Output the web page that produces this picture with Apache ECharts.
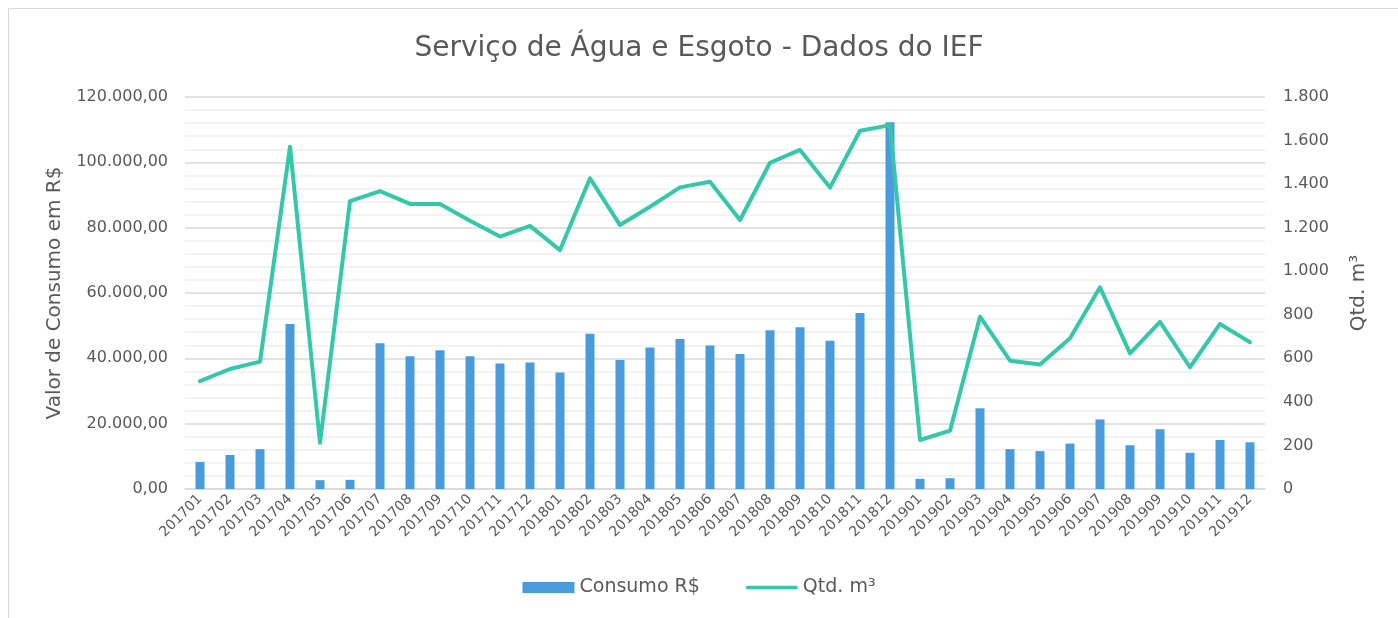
<!DOCTYPE html>
<html>
<head>
<meta charset="utf-8">
<script src="https://cdn.jsdelivr.net/npm/echarts@6/dist/echarts.min.js"></script>
<style>
  html, body { margin: 0; padding: 0; background: #fff; }
  #chart { width: 1398px; height: 618px; }
</style>
</head>
<body>
<div id="chart"></div>
<script>
// meses (AAAAMM)
var meses = ['201701','201702','201703','201704','201705','201706','201707','201708','201709','201710','201711','201712',
             '201801','201802','201803','201804','201805','201806','201807','201808','201809','201810','201811','201812',
             '201901','201902','201903','201904','201905','201906','201907','201908','201909','201910','201911','201912'];

// Consumo R$ (eixo esquerdo)
var consumo = [8300, 10400, 12200, 50500, 2700, 2800, 44600, 40600, 42500, 40600, 38400, 38700,
               35700, 47500, 39500, 43300, 45900, 43900, 41300, 48600, 49500, 45400, 53900, 112300,
               3100, 3300, 24700, 12200, 11600, 13900, 21300, 13400, 18300, 11100, 15000, 14300];

// Qtd. m³ (eixo direito)
var qtd = [495, 551, 585, 1572, 212, 1322, 1368, 1309, 1309, 1232, 1159, 1208,
           1097, 1427, 1212, 1296, 1385, 1411, 1235, 1498, 1557, 1384, 1645, 1671,
           225, 268, 791, 589, 572, 692, 926, 623, 767, 559, 758, 674];

var cinza = '#595959';
var fonte = 'DejaVu Sans';

function brl(v) {
  var p = v.toFixed(2).split('.');
  return p[0].replace(/\B(?=(\d{3})+(?!\d))/g, '.') + ',' + p[1];
}
function milhar(v) {
  return String(v).replace(/\B(?=(\d{3})+(?!\d))/g, '.');
}

var myChart = echarts.init(document.getElementById('chart'));
myChart.setOption({
  animation: false,
  textStyle: { fontFamily: fonte, color: cinza },
  graphic: [{
    type: 'rect',
    shape: { x: 8.5, y: 8.5, width: 1400, height: 620 },
    style: { fill: 'none', stroke: '#d9d9d9', lineWidth: 1 }
  }],
  title: {
    text: 'Serviço de Água e Esgoto - Dados do IEF',
    left: 'center',
    top: 30,
    textStyle: { fontFamily: fonte, fontWeight: 'normal', fontSize: 28, color: cinza }
  },
  legend: {
    bottom: 16,
    left: 'center',
    itemGap: 46,
    itemWidth: 52,
    itemHeight: 11,
    textStyle: { fontFamily: fonte, fontSize: 19, color: cinza },
    data: [
      { name: 'Consumo R$', icon: 'rect' },
      { name: 'Qtd. m³', icon: 'path://M2,0 L54,0 A2,2 0 0 1 54,4 L2,4 A2,2 0 0 1 2,0 Z' }
    ]
  },
  grid: { left: 185, right: 133, top: 97, bottom: 129 },
  xAxis: {
    type: 'category',
    data: meses,
    axisLine: { lineStyle: { color: '#d9d9d9', width: 1.5 } },
    axisTick: { show: false },
    axisLabel: { rotate: 45, fontSize: 14, color: cinza, interval: 0, margin: 8 }
  },
  yAxis: [
    {
      type: 'value',
      min: 0, max: 120000, interval: 20000,
      name: 'Valor de Consumo em R$',
      nameLocation: 'middle',
      nameGap: 120,
      nameTextStyle: { fontSize: 20, color: cinza },
      axisLabel: { formatter: brl, fontSize: 16, color: cinza, margin: 17 },
      axisLine: { show: false },
      axisTick: { show: false },
      splitLine: { lineStyle: { color: '#d9d9d9', width: 1.5 } },
      minorTick: { show: false, splitNumber: 5 },
      minorSplitLine: { show: true, lineStyle: { color: '#f0f0f0', width: 1.5 } }
    },
    {
      type: 'value',
      min: 0, max: 1800, interval: 200,
      name: 'Qtd. m³',
      nameLocation: 'middle',
      nameGap: 84,
      nameRotate: 90,
      nameTextStyle: { fontSize: 20, color: cinza },
      axisLabel: { formatter: milhar, fontSize: 16, color: cinza, margin: 18 },
      axisLine: { show: false },
      axisTick: { show: false },
      splitLine: { show: false }
    }
  ],
  series: [
    {
      name: 'Consumo R$',
      type: 'bar',
      yAxisIndex: 0,
      barWidth: 9,
      itemStyle: { color: '#4a9bdb' },
      data: consumo
    },
    {
      name: 'Qtd. m³',
      type: 'line',
      yAxisIndex: 1,
      symbol: 'none',
      lineStyle: { color: '#34c8a7', width: 4, cap: 'round', join: 'round' },
      itemStyle: { color: '#34c8a7' },
      data: qtd
    }
  ]
});
</script>
</body>
</html>
